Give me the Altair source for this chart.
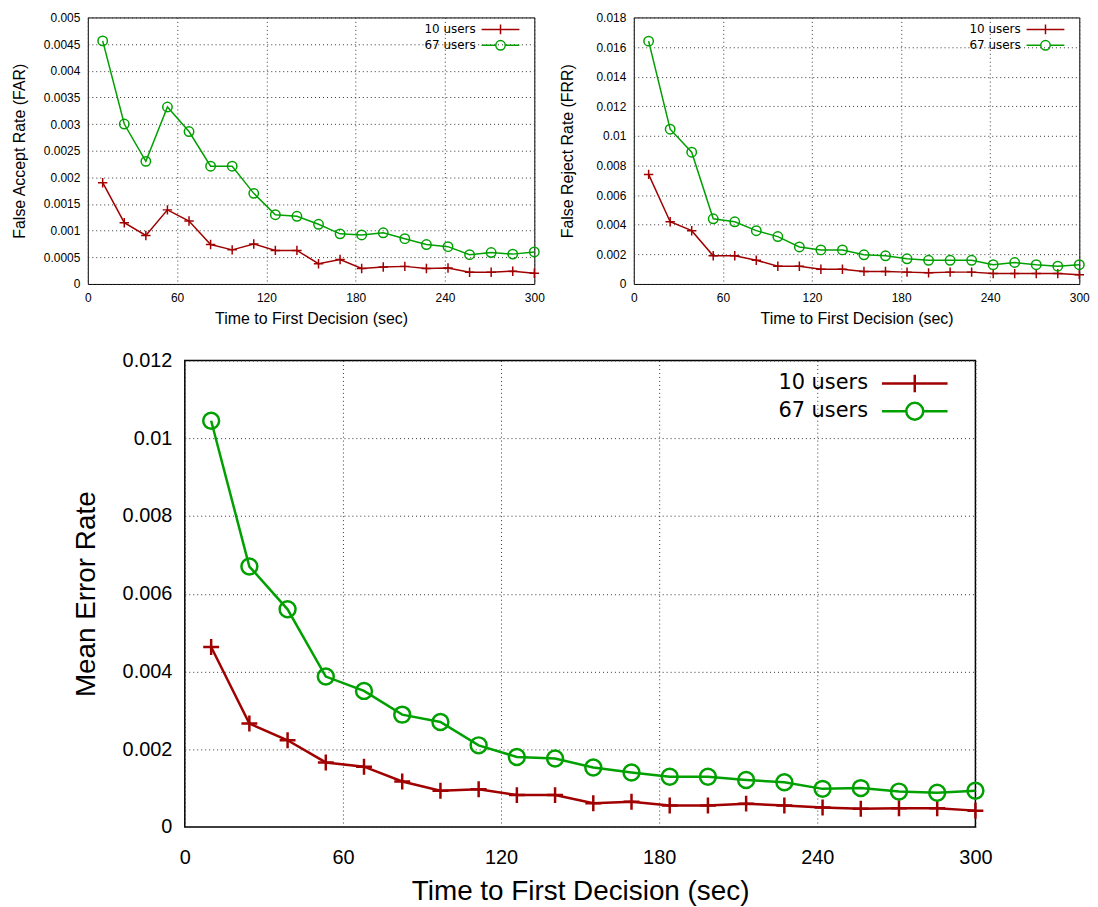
import altair as alt
import pandas as pd

# ---------------- data ----------------
x_sec = [10, 24.5, 39, 53.5, 68, 82.5, 97, 111.5, 126, 140.5, 155,
         169.5, 184, 198.5, 213, 227.5, 242, 256.5, 271, 285.5, 300]
series_names = ["10 users", "67 users"]
series_colors = ["#a00000", "#00a000"]

far_10 = [0.0019, 0.00115, 0.00091, 0.00139, 0.00118, 0.00074, 0.00064, 0.00075,
          0.00063, 0.00063, 0.00038, 0.00046, 0.00029, 0.00032, 0.00033, 0.00029,
          0.0003, 0.00022, 0.00022, 0.00024, 0.0002]
far_67 = [0.00456, 0.0030, 0.0023, 0.00332, 0.00286, 0.00221, 0.00221, 0.0017,
          0.0013, 0.00127, 0.00112, 0.00094, 0.00092, 0.00096, 0.00085, 0.00074,
          0.0007, 0.00055, 0.00059, 0.00056, 0.0006]
frr_10 = [0.0074, 0.0042, 0.0036, 0.0019, 0.0019, 0.0016, 0.0012, 0.0012,
          0.001, 0.001, 0.00085, 0.00085, 0.0008, 0.00075, 0.0008, 0.0008,
          0.0007, 0.0007, 0.0007, 0.0007, 0.00063]
frr_67 = [0.0164, 0.01045, 0.0089, 0.0044, 0.0042, 0.0036, 0.0032, 0.0025,
          0.0023, 0.0023, 0.00197, 0.0019, 0.0017, 0.0016, 0.0016, 0.0016,
          0.0013, 0.00145, 0.0013, 0.0012, 0.0013]
mean_10 = [0.00463, 0.00266, 0.00223, 0.00166, 0.00155, 0.00117, 0.00093, 0.00097,
           0.00082, 0.00082, 0.00061, 0.00065, 0.00055, 0.00055, 0.0006, 0.00055,
           0.0005, 0.00047, 0.00048, 0.00048, 0.00042]
mean_67 = [0.01045, 0.0067, 0.0056, 0.00387, 0.0035, 0.00289, 0.0027, 0.0021,
           0.0018, 0.00176, 0.00153, 0.0014, 0.00129, 0.00129, 0.00121, 0.00115,
           0.00098, 0.001, 0.00091, 0.00088, 0.00093]

x_ticks = [0, 60, 120, 180, 240, 300]
far_ticks = [0, 0.0005, 0.001, 0.0015, 0.002, 0.0025, 0.003, 0.0035, 0.004, 0.0045, 0.005]
frr_ticks = [0, 0.002, 0.004, 0.006, 0.008, 0.01, 0.012, 0.014, 0.016, 0.018]
mean_ticks = [0, 0.002, 0.004, 0.006, 0.008, 0.01, 0.012]

x_title = "Time to First Decision (sec)"

# ---------------- styling ----------------
cross_path = "M-1,0L1,0M0,-1L0,1"


def legend_shape_expr(half, bar, rad):
    # line sample with a "+" or an "o" in the middle (gnuplot-like key)
    cross = f"M-{half},0L{half},0M0,-{bar}L0,{bar}"
    circ = (f"M-{half},0L-{rad},0A{rad},{rad},0,1,1,{rad},0"
            f"A{rad},{rad},0,1,1,-{rad},0M{rad},0L{half},0")
    return f"datum.value === '{series_names[0]}' ? '{cross}' : '{circ}'"


small = dict(lw=1.5, ms=90, lfs=12, tfs=16, legfs=12, frame=1, xlp=9, xtp=7,
             lsize=100, lshape=legend_shape_expr(3.8, 0.98, 0.95),
             rowpad=0, legy=6, legright=40, loff=-31)
big = dict(lw=2.5, ms=256, lfs=20, tfs=28, legfs=21, frame=1.5, xlp=21, xtp=10,
           lsize=324, lshape=legend_shape_expr(3.667, 0.98, 0.944),
           rowpad=0, legy=12.5, legright=71.5, loff=-57.5)


def panel(v10, v67, ytitle, yticks, w, h, st, ytp, ylp):
    df = pd.DataFrame({
        "t": x_sec + x_sec,
        "rate": v10 + v67,
        "series": [series_names[0]] * len(x_sec) + [series_names[1]] * len(x_sec),
    })
    common_axis = dict(
        ticks=False, tickSize=0, domain=False, grid=True, gridDash=[1, 3],
        gridColor="#333333", gridWidth=1, labelFont="Liberation Sans",
        labelFontSize=st["lfs"], labelColor="black", titleFont="Liberation Sans",
        titleFontSize=st["tfs"], titleFontWeight="normal", titleColor="black",
        labelFlush=False, labelOverlap=False,
    )
    legend = alt.Legend(
        title=None, orient="none", legendX=w - st["legright"], legendY=st["legy"],
        padding=0, rowPadding=st["rowpad"],
        symbolSize=st["lsize"], symbolStrokeWidth=st["lw"], symbolOffset=0,
        symbolType={"expr": st["lshape"]}, symbolFillColor="transparent",
        labelAlign="right", labelBaseline="middle",
        labelOffset={"expr": str(st["loff"])},
        labelFont="DejaVu Sans", labelFontSize=st["legfs"], labelColor="black",
    )
    base = alt.Chart(df).encode(
        x=alt.X("t:Q", scale=alt.Scale(domain=[0, 300], nice=False, zero=False),
                axis=alt.Axis(values=x_ticks, title=x_title, labelPadding=st["xlp"],
                              titlePadding=st["xtp"], **common_axis)),
        y=alt.Y("rate:Q", scale=alt.Scale(domain=[yticks[0], yticks[-1]], nice=False),
                axis=alt.Axis(values=yticks, format="~g", title=ytitle,
                              labelPadding=ylp, titlePadding=ytp, **common_axis)),
        color=alt.Color("series:N",
                        scale=alt.Scale(domain=series_names, range=series_colors),
                        legend=legend),
    )
    line = base.mark_line(strokeWidth=st["lw"])
    pts = base.mark_point(filled=False, strokeWidth=st["lw"], size=st["ms"], opacity=1).encode(
        shape=alt.Shape("series:N",
                        scale=alt.Scale(domain=series_names, range=[cross_path, "circle"]),
                        legend=None)
    )
    return alt.layer(line, pts).properties(
        width=w, height=h,
        view=alt.ViewBackground(stroke="black", strokeWidth=st["frame"], fill="white"),
    )


far_chart = panel(far_10, far_67, "False Accept Rate (FAR)", far_ticks, 449, 268, small, 16, 8)
frr_chart = panel(frr_10, frr_67, "False Reject Rate (FRR)", frr_ticks, 448, 268, small, 21, 8)
mean_chart = panel(mean_10, mean_67, "Mean Error Rate", mean_ticks, 795, 469, big, 22, 13)

top = alt.hconcat(far_chart, frr_chart, spacing=13).resolve_scale(color="independent")
chart = alt.vconcat(top, mean_chart, spacing=22, center=True).resolve_scale(
    color="independent").properties(
    padding={"left": 3, "top": 0, "right": 0, "bottom": 0},
    background="white",
)

chart.save("out.html", embed_options={"renderer": "svg", "actions": False})
